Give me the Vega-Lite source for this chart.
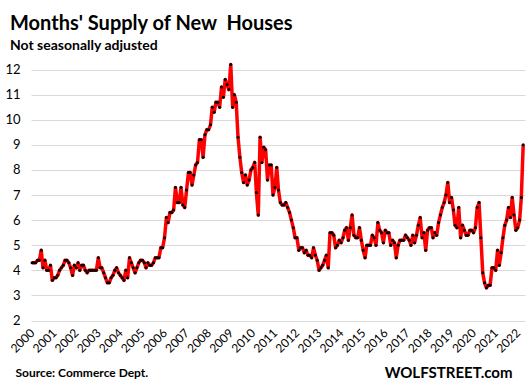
{
  "$schema": "https://vega.github.io/schema/vega-lite/v6.json",
  "width": 494,
  "height": 258.5,
  "autosize": {"type": "none"},
  "padding": {"left": 31, "top": 62, "right": 2, "bottom": 70},
  "background": "white",
  "title": {
    "text": "Months' Supply of New \u00a0Houses",
    "subtitle": "Not seasonally adjusted",
    "anchor": "start",
    "frame": "group",
    "dx": -21,
    "offset": 9,
    "font": "Lato",
    "fontSize": 20,
    "fontWeight": "bold",
    "color": "#000000",
    "subtitleFont": "Lato",
    "subtitleFontSize": 14,
    "subtitleFontWeight": "bold",
    "subtitleColor": "#000000",
    "subtitlePadding": 5
  },
  "config": {
    "view": {"stroke": null},
    "axis": {"labelFont": "Lato", "titleFont": "Lato"}
  },
  "data": {
    "values": [
      {"d":"2000-01","v":4.3},{"d":"2000-02","v":4.3},{"d":"2000-03","v":4.3},{"d":"2000-04","v":4.4},{"d":"2000-05","v":4.4},{"d":"2000-06","v":4.8},{"d":"2000-07","v":4.1},{"d":"2000-08","v":4.4},{"d":"2000-09","v":4.0},{"d":"2000-10","v":4.0},{"d":"2000-11","v":4.2},{"d":"2000-12","v":3.6},
      {"d":"2001-01","v":3.7},{"d":"2001-02","v":3.7},{"d":"2001-03","v":3.8},{"d":"2001-04","v":4.0},{"d":"2001-05","v":4.1},{"d":"2001-06","v":4.2},{"d":"2001-07","v":4.4},{"d":"2001-08","v":4.4},{"d":"2001-09","v":4.3},{"d":"2001-10","v":4.1},{"d":"2001-11","v":3.8},{"d":"2001-12","v":4.2},
      {"d":"2002-01","v":4.1},{"d":"2002-02","v":4.3},{"d":"2002-03","v":4.0},{"d":"2002-04","v":4.2},{"d":"2002-05","v":4.2},{"d":"2002-06","v":4.0},{"d":"2002-07","v":3.9},{"d":"2002-08","v":4.0},{"d":"2002-09","v":4.0},{"d":"2002-10","v":4.0},{"d":"2002-11","v":4.0},{"d":"2002-12","v":4.0},
      {"d":"2003-01","v":4.5},{"d":"2003-02","v":4.1},{"d":"2003-03","v":4.1},{"d":"2003-04","v":3.9},{"d":"2003-05","v":3.7},{"d":"2003-06","v":3.5},{"d":"2003-07","v":3.5},{"d":"2003-08","v":3.7},{"d":"2003-09","v":3.8},{"d":"2003-10","v":4.0},{"d":"2003-11","v":4.1},{"d":"2003-12","v":3.9},
      {"d":"2004-01","v":3.8},{"d":"2004-02","v":3.7},{"d":"2004-03","v":3.6},{"d":"2004-04","v":4.0},{"d":"2004-05","v":3.7},{"d":"2004-06","v":4.5},{"d":"2004-07","v":4.3},{"d":"2004-08","v":4.1},{"d":"2004-09","v":3.9},{"d":"2004-10","v":4.1},{"d":"2004-11","v":4.3},{"d":"2004-12","v":4.4},
      {"d":"2005-01","v":4.4},{"d":"2005-02","v":4.3},{"d":"2005-03","v":4.1},{"d":"2005-04","v":4.3},{"d":"2005-05","v":4.2},{"d":"2005-06","v":4.2},{"d":"2005-07","v":4.3},{"d":"2005-08","v":4.5},{"d":"2005-09","v":4.5},{"d":"2005-10","v":4.5},{"d":"2005-11","v":4.9},{"d":"2005-12","v":4.9},
      {"d":"2006-01","v":5.3},{"d":"2006-02","v":6.1},{"d":"2006-03","v":5.9},{"d":"2006-04","v":6.3},{"d":"2006-05","v":6.3},{"d":"2006-06","v":6.4},{"d":"2006-07","v":7.3},{"d":"2006-08","v":6.7},{"d":"2006-09","v":6.7},{"d":"2006-10","v":7.3},{"d":"2006-11","v":6.6},{"d":"2006-12","v":6.5},
      {"d":"2007-01","v":7.2},{"d":"2007-02","v":7.9},{"d":"2007-03","v":7.9},{"d":"2007-04","v":7.4},{"d":"2007-05","v":7.8},{"d":"2007-06","v":8.2},{"d":"2007-07","v":8.3},{"d":"2007-08","v":9.2},{"d":"2007-09","v":9.2},{"d":"2007-10","v":8.5},{"d":"2007-11","v":9.4},{"d":"2007-12","v":9.6},
      {"d":"2008-01","v":9.6},{"d":"2008-02","v":9.8},{"d":"2008-03","v":10.5},{"d":"2008-04","v":10.3},{"d":"2008-05","v":10.7},{"d":"2008-06","v":10.7},{"d":"2008-07","v":10.5},{"d":"2008-08","v":11.3},{"d":"2008-09","v":10.9},{"d":"2008-10","v":11.6},{"d":"2008-11","v":11.4},{"d":"2008-12","v":11.2},
      {"d":"2009-01","v":12.2},{"d":"2009-02","v":10.5},{"d":"2009-03","v":11.0},{"d":"2009-04","v":10.7},{"d":"2009-05","v":9.3},{"d":"2009-06","v":8.5},{"d":"2009-07","v":7.9},{"d":"2009-08","v":7.5},{"d":"2009-09","v":7.8},{"d":"2009-10","v":7.4},{"d":"2009-11","v":7.6},{"d":"2009-12","v":8.0},
      {"d":"2010-01","v":8.1},{"d":"2010-02","v":8.3},{"d":"2010-03","v":7.1},{"d":"2010-04","v":6.2},{"d":"2010-05","v":9.3},{"d":"2010-06","v":8.3},{"d":"2010-07","v":8.9},{"d":"2010-08","v":8.8},{"d":"2010-09","v":7.6},{"d":"2010-10","v":8.2},{"d":"2010-11","v":8.2},{"d":"2010-12","v":7.0},
      {"d":"2011-01","v":7.3},{"d":"2011-02","v":8.1},{"d":"2011-03","v":7.2},{"d":"2011-04","v":6.7},{"d":"2011-05","v":6.6},{"d":"2011-06","v":6.6},{"d":"2011-07","v":6.7},{"d":"2011-08","v":6.5},{"d":"2011-09","v":6.3},{"d":"2011-10","v":6.0},{"d":"2011-11","v":5.7},{"d":"2011-12","v":5.3},
      {"d":"2012-01","v":5.3},{"d":"2012-02","v":4.8},{"d":"2012-03","v":4.9},{"d":"2012-04","v":4.9},{"d":"2012-05","v":4.7},{"d":"2012-06","v":4.8},{"d":"2012-07","v":4.6},{"d":"2012-08","v":4.6},{"d":"2012-09","v":4.5},{"d":"2012-10","v":4.9},{"d":"2012-11","v":4.6},{"d":"2012-12","v":4.4},
      {"d":"2013-01","v":4.0},{"d":"2013-02","v":4.1},{"d":"2013-03","v":4.2},{"d":"2013-04","v":4.4},{"d":"2013-05","v":4.6},{"d":"2013-06","v":4.1},{"d":"2013-07","v":5.5},{"d":"2013-08","v":5.5},{"d":"2013-09","v":5.4},{"d":"2013-10","v":4.9},{"d":"2013-11","v":5.0},{"d":"2013-12","v":5.2},
      {"d":"2014-01","v":5.1},{"d":"2014-02","v":5.3},{"d":"2014-03","v":5.6},{"d":"2014-04","v":5.7},{"d":"2014-05","v":5.2},{"d":"2014-06","v":5.7},{"d":"2014-07","v":6.2},{"d":"2014-08","v":5.4},{"d":"2014-09","v":5.3},{"d":"2014-10","v":5.3},{"d":"2014-11","v":5.7},{"d":"2014-12","v":5.2},
      {"d":"2015-01","v":4.8},{"d":"2015-02","v":4.5},{"d":"2015-03","v":5.0},{"d":"2015-04","v":5.0},{"d":"2015-05","v":5.0},{"d":"2015-06","v":5.4},{"d":"2015-07","v":5.3},{"d":"2015-08","v":5.0},{"d":"2015-09","v":5.9},{"d":"2015-10","v":5.6},{"d":"2015-11","v":5.5},{"d":"2015-12","v":5.1},
      {"d":"2016-01","v":5.6},{"d":"2016-02","v":5.5},{"d":"2016-03","v":5.5},{"d":"2016-04","v":5.0},{"d":"2016-05","v":5.2},{"d":"2016-06","v":5.1},{"d":"2016-07","v":4.5},{"d":"2016-08","v":5.0},{"d":"2016-09","v":5.2},{"d":"2016-10","v":5.2},{"d":"2016-11","v":5.2},{"d":"2016-12","v":5.4},
      {"d":"2017-01","v":5.3},{"d":"2017-02","v":5.2},{"d":"2017-03","v":5.0},{"d":"2017-04","v":5.4},{"d":"2017-05","v":5.1},{"d":"2017-06","v":5.4},{"d":"2017-07","v":5.8},{"d":"2017-08","v":6.1},{"d":"2017-09","v":5.3},{"d":"2017-10","v":5.5},{"d":"2017-11","v":4.8},{"d":"2017-12","v":5.6},
      {"d":"2018-01","v":5.7},{"d":"2018-02","v":5.7},{"d":"2018-03","v":5.3},{"d":"2018-04","v":5.5},{"d":"2018-05","v":5.4},{"d":"2018-06","v":5.9},{"d":"2018-07","v":6.2},{"d":"2018-08","v":6.5},{"d":"2018-09","v":6.7},{"d":"2018-10","v":7.0},{"d":"2018-11","v":7.5},{"d":"2018-12","v":6.7},
      {"d":"2019-01","v":6.9},{"d":"2019-02","v":6.4},{"d":"2019-03","v":5.8},{"d":"2019-04","v":5.7},{"d":"2019-05","v":6.5},{"d":"2019-06","v":5.3},{"d":"2019-07","v":5.8},{"d":"2019-08","v":5.6},{"d":"2019-09","v":5.4},{"d":"2019-10","v":5.4},{"d":"2019-11","v":5.6},{"d":"2019-12","v":5.6},
      {"d":"2020-01","v":5.5},{"d":"2020-02","v":5.7},{"d":"2020-03","v":6.5},{"d":"2020-04","v":6.7},{"d":"2020-05","v":5.3},{"d":"2020-06","v":3.9},{"d":"2020-07","v":3.5},{"d":"2020-08","v":3.3},{"d":"2020-09","v":3.4},{"d":"2020-10","v":3.4},{"d":"2020-11","v":4.1},{"d":"2020-12","v":4.1},
      {"d":"2021-01","v":4.0},{"d":"2021-02","v":4.8},{"d":"2021-03","v":4.2},{"d":"2021-04","v":4.7},{"d":"2021-05","v":5.3},{"d":"2021-06","v":5.8},{"d":"2021-07","v":6.0},{"d":"2021-08","v":6.5},{"d":"2021-09","v":6.1},{"d":"2021-10","v":6.9},{"d":"2021-11","v":6.2},{"d":"2021-12","v":5.6},
      {"d":"2022-01","v":5.7},{"d":"2022-02","v":6.0},{"d":"2022-03","v":6.9},{"d":"2022-04","v":9.0}
    ],
    "format": {"parse": {"d": "date:'%Y-%m'"}}
  },
  "encoding": {
    "x": {
      "field": "d",
      "type": "temporal",
      "scale": {"domain": [{"year": 1999, "month": 12, "date": 15}, {"year": 2022, "month": 5, "date": 1}], "nice": false},
      "axis": {
        "title": "Source: Commerce Dept.",
        "titleFont": "Lato",
        "titleFontSize": 12,
        "titleFontWeight": "bold",
        "titleColor": "#000000",
        "titleAnchor": "start",
        "titleAlign": "left",
        "titleBaseline": "alphabetic",
        "titleX": -16,
        "titleY": 56,
        "tickCount": {"interval": "year", "step": 1},
        "format": "%Y",
        "labelAngle": -45,
        "labelAlign": "right",
        "labelBaseline": "middle",
        "labelFontSize": 12,
        "labelColor": "#000000",
        "labelPadding": 10,
        "labelOverlap": false,
        "labelFlush": false,
        "ticks": false,
        "domain": false,
        "grid": false
      }
    },
    "y": {
      "field": "v",
      "type": "quantitative",
      "scale": {"domain": [2, 12.3], "nice": false, "zero": false},
      "axis": {
        "title": "WOLFSTREET.com",
        "titleFont": "Lato",
        "titleFontSize": 15,
        "titleFontWeight": "bold",
        "titleColor": "#000000",
        "titleAngle": 0,
        "titleAlign": "right",
        "titleBaseline": "alphabetic",
        "titleX": 481,
        "titleY": 315,
        "values": [2, 3, 4, 5, 6, 7, 8, 9, 10, 11, 12],
        "labelFontSize": 13,
        "labelColor": "#000000",
        "labelPadding": 11,
        "ticks": false,
        "domain": false,
        "grid": true,
        "gridColor": "#d9d9d9",
        "gridWidth": 1
      }
    }
  },
  "layer": [
    {"mark": {"type": "line", "color": "#ff0000", "strokeWidth": 3.5, "strokeJoin": "round"}},
    {"mark": {"type": "circle", "color": "#000000", "size": 9, "opacity": 1}}
  ]
}
